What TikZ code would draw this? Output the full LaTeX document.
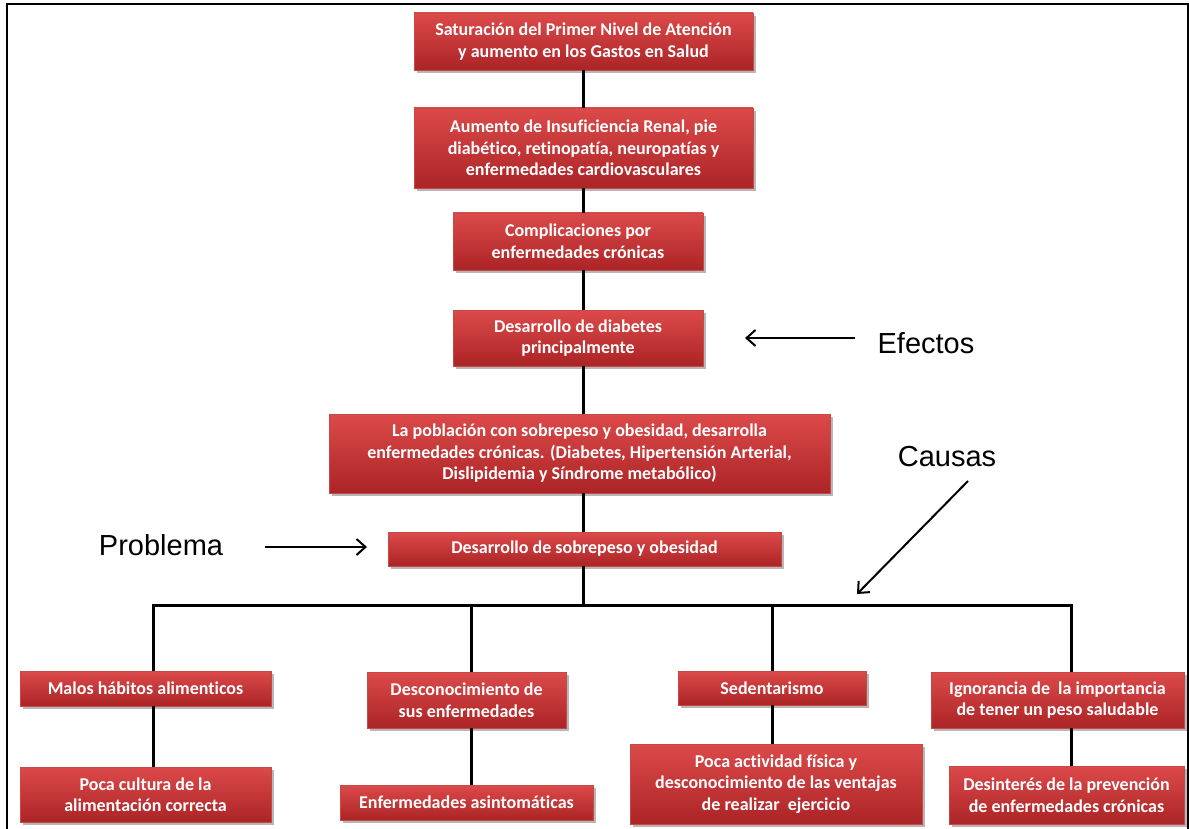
\documentclass[tikz,border=0pt]{standalone}
\usepackage{fontspec}
\setmainfont{Carlito}[RawFeature={-liga}]
\newfontfamily\arialf{Liberation Sans}
\usetikzlibrary{shadows,arrows.meta}
\definecolor{boxtop}{RGB}{220,74,74}
\definecolor{boxbot}{RGB}{172,36,38}
\definecolor{boxedge}{RGB}{200,72,72}
\begin{document}
\begin{tikzpicture}[x=1pt,y=-1pt,
  box/.style={rectangle, inner sep=0pt, align=center,
    font=\bfseries\fontsize{18}{21.5}\selectfont, text=white,
    top color=boxtop, bottom color=boxbot, draw=boxedge, line width=0.8pt,
    drop shadow={shadow xshift=2.5pt, shadow yshift=-3pt, opacity=0.35, fill=black!80}},
  lab/.style={font=\arialf\fontsize{29}{34}\selectfont, text=black, inner sep=0pt},
  conn/.style={line width=3pt, black, line join=miter},
  arr/.style={line width=2pt, black, -{Straight Barb[length=9pt,width=16pt,line width=2pt]}}]
\useasboundingbox (0,0) rectangle (1189,829);
\fill[white] (0,0) rectangle (1189,829);
\draw[line width=2pt] (7,829) -- (7,4) -- (1188,4) -- (1188,829);

% effect chain
\node[box, minimum width=339pt, minimum height=57pt] (b1) at (583.5,41.5)
  {Saturación del Primer Nivel de Atención\\y aumento en los Gastos en Salud};
\node[box, minimum width=339pt, minimum height=80pt] (b2) at (583.5,148)
  {Aumento de Insuficiencia Renal, pie\\diabético, retinopatía, neuropatías y\\enfermedades cardiovasculares};
\node[box, minimum width=250pt, minimum height=57pt] (b3) at (578,241.5)
  {Complicaciones por\\enfermedades crónicas};
\node[box, minimum width=250pt, minimum height=56pt] (b4) at (578,338)
  {Desarrollo de diabetes\\principalmente};
\node[box, minimum width=501pt, minimum height=79pt] (b5) at (579.5,453.5)
  {La población con sobrepeso y obesidad, desarrolla\\enfermedades crónicas. (Diabetes, Hipertensión Arterial,\\Dislipidemia y Síndrome metabólico)};
\node[box, minimum width=393pt, minimum height=34pt] (b6) at (584.5,549)
  {Desarrollo de sobrepeso y obesidad};

% causes
\node[box, minimum width=251pt, minimum height=35pt] (c1a) at (145.5,688.5)
  {Malos hábitos alimenticos};
\node[box, minimum width=251pt, minimum height=55pt] (c1b) at (145.5,794.5)
  {Poca cultura de la\\alimentación correcta};
\node[box, minimum width=199pt, minimum height=56pt] (c2a) at (466.5,700)
  {Desconocimiento de\\sus enfermedades};
\node[box, minimum width=253pt, minimum height=35pt] (c2b) at (466.5,802.5)
  {Enfermedades asintomáticas};
\node[box, minimum width=188pt, minimum height=34pt] (c3a) at (772,688)
  {Sedentarismo};
\node[box, minimum width=292pt, minimum height=80pt] (c3b) at (776,784)
  {Poca actividad física y\\desconocimiento de las ventajas\\de realizar\ \ ejercicio};
\node[box, minimum width=253pt, minimum height=56pt] (c4a) at (1057.5,700)
  {Ignorancia de\ \ la importancia\\de tener un peso saludable};
\node[box, minimum width=235pt, minimum height=58pt] (c4b) at (1066.5,795)
  {Desinterés de la prevención\\de enfermedades crónicas};

% connectors
\coordinate (J) at (583,605);
\coordinate (L) at (153,605);
\coordinate (M1) at (471,605);
\coordinate (M2) at (772,605);
\coordinate (R) at (1071,605);
\draw[conn] (b1.south -| J) -- (b2.north -| J);
\draw[conn] (b2.south -| J) -- (b3.north -| J);
\draw[conn] (b3.south -| J) -- (b4.north -| J);
\draw[conn] (b4.south -| J) -- (b5.north -| J);
\draw[conn] (b5.south -| J) -- (b6.north -| J);
\draw[conn] (b6.south -| J) -- (J);
\draw[conn] (c1a.north -| L) -- (L) -- (R) -- (c4a.north -| R);
\draw[conn] (M1) -- (c2a.north -| M1);
\draw[conn] (M2) -- (c3a.north -| M2);
\draw[conn] (c1a.south -| L) -- (c1b.north -| L);
\draw[conn] (c2a.south -| M1) -- (c2b.north -| M1);
\draw[conn] (c3a.south -| M2) -- (c3b.north -| M2);
\draw[conn] (c4a.south -| R) -- (c4b.north -| R);

% labels and arrows
\node[lab] (ef) at (926,343) {Efectos};
\coordinate (efs) at (855,338);
\coordinate (efa) at (745,338);
\draw[arr] (efs) -- (efa);
\node[lab] (pr) at (161,545) {Problema};
\coordinate (prs) at (265,547);
\coordinate (pra) at (367,547);
\draw[arr] (prs) -- (pra);
\node[lab] (ca) at (947,457) {Causas};
\coordinate (cas) at (968,481);
\coordinate (caa) at (857,594);
\draw[arr] (cas) -- (caa);
\end{tikzpicture}
\end{document}
